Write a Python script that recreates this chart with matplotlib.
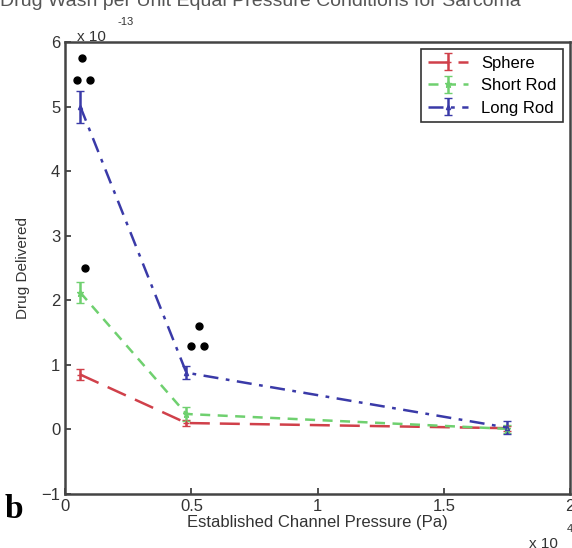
import numpy as np
import matplotlib.pyplot as plt

plt.rcParams['font.family'] = ['Liberation Sans', 'DejaVu Sans']

# pressure (x 10^4 Pa) and drug delivered (x 10^-13)
presion = [0.06, 0.48, 1.75]
esfera = [0.85, 0.10, 0.02]
esfera_err = [0.09, 0.04, 0.04]
corta = [2.12, 0.24, 0.01]
corta_err = [0.16, 0.11, 0.06]
larga = [5.0, 0.88, 0.03]
larga_err = [0.25, 0.1, 0.1]

# significance marks (x, y)
sig_x = [0.048, 0.1, 0.068, 0.08, 0.5, 0.55, 0.53]
sig_y = [5.42, 5.42, 5.75, 2.5, 1.3, 1.3, 1.6]

fig = plt.figure(figsize=(5.72, 5.48), dpi=100)
ax = fig.add_axes([0.114, 0.0985, 0.8825, 0.8245])

ax.errorbar(presion, esfera, yerr=esfera_err, color='#d0404a', ls=(0, (8, 4)),
            lw=1.8, marker='+', ms=5, capsize=3, label='Sphere')
ax.errorbar(presion, corta, yerr=corta_err, color='#6fd06f', ls=(0, (4, 3)),
            lw=1.8, marker='*', ms=5, capsize=3, label='Short Rod')
ax.errorbar(presion, larga, yerr=larga_err, color='#3a3aa8', ls=(0, (6, 3, 1.5, 3)),
            lw=1.8, marker='^', ms=3, mfc='none', capsize=3, label='Long Rod')

ax.plot(sig_x, sig_y, 'o', color='black', ms=5, ls='none')

ax.set_xlim(0, 2)
ax.set_ylim(-1, 6)
ax.set_xticks([0, 0.5, 1, 1.5, 2])
ax.set_xticklabels(['0', '0.5', '1', '1.5', '2'])
ax.set_yticks(range(-1, 7))
ax.tick_params(direction='in', labelsize=12, length=4, width=1.2, colors='#333333')
for s in ax.spines.values():
    s.set_linewidth(1.8)
    s.set_color('#444444')

ax.set_xlabel('Established Channel Pressure (Pa)', fontsize=12, color='#333333', labelpad=1)
ax.set_ylabel('Drug Delivered', fontsize=11, color='#333333', labelpad=8)

fig.text(0.135, 0.925, 'x 10', fontsize=11, color='#333333')
fig.text(0.205, 0.955, '-13', fontsize=8, color='#333333')
fig.text(0.925, 0.0, 'x 10', fontsize=11, color='#333333')
fig.text(0.99, 0.03, '4', fontsize=8, color='#333333')
fig.text(0.008, 0.055, 'b', fontsize=24, fontweight='bold', family='Liberation Serif')
fig.text(0.0, 0.997, 'Drug Wash per Unit Equal Pressure Conditions for Sarcoma',
         fontsize=14, color='#555555', va='center')

leg = ax.legend(loc='upper right', fontsize=12, handlelength=2.4, fancybox=False,
                edgecolor='#333333', framealpha=1, borderaxespad=0.4,
                labelspacing=0.45, borderpad=0.4)
leg.get_frame().set_linewidth(1.2)

fig.savefig('out.png', dpi=100)
